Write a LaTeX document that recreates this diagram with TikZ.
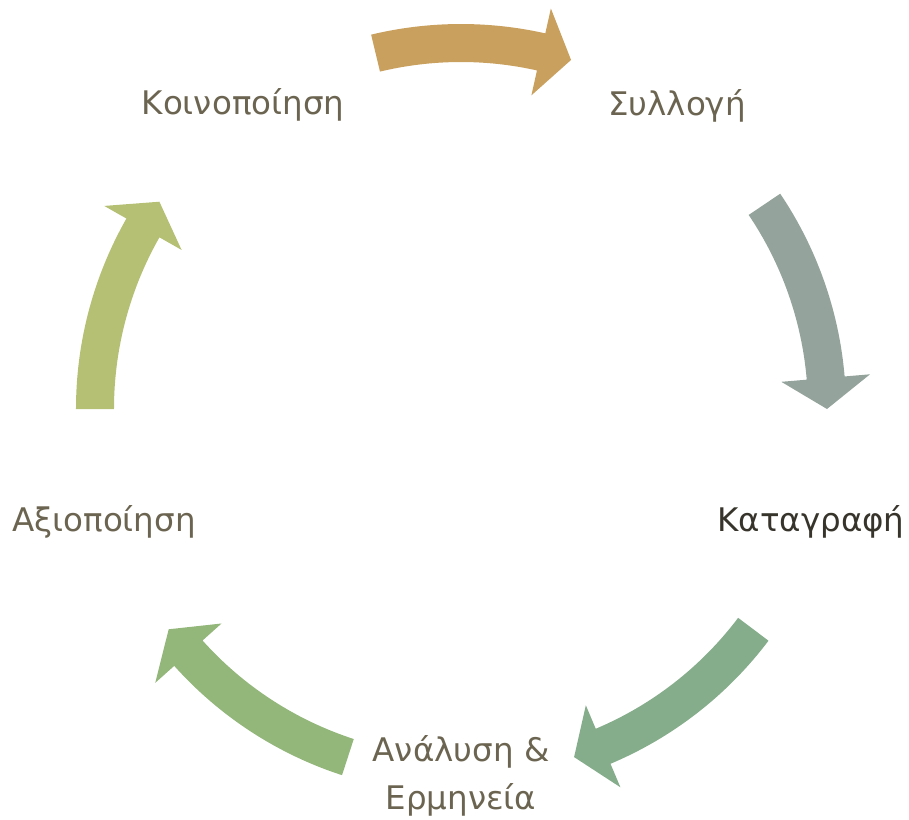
\documentclass[tikz,border=0pt]{standalone}
\usepackage{fontspec}
\setmainfont{DejaVu Sans}
\usepackage{tikz}

\definecolor{sandarrow}{HTML}{C9A05E}
\definecolor{greyarrow}{HTML}{94A39B}
\definecolor{sagearrow}{HTML}{85AD8B}
\definecolor{leafarrow}{HTML}{93B67A}
\definecolor{olivearrow}{HTML}{B5C074}
\definecolor{labeltext}{HTML}{6B6450}
\definecolor{labeldark}{HTML}{36342B}

% curved block arrow on the cycle: colour, tail angle, tip angle
\newcommand{\cyclearrow}[3]{%
  \fill[#1] (#2:34.7) arc[start angle=#2, end angle=#3+4.85, radius=34.7]
    -- (#3+4.85:32.15) -- (#3:36.6) -- (#3+4.85:41.05) -- (#3+4.85:38.5)
    arc[start angle=#3+4.85, end angle=#2, radius=38.5] -- cycle;}

\begin{document}
\begin{tikzpicture}[scale=0.2,
  lbl/.style={font=\fontsize{18.5}{27}\selectfont, text=labeltext, align=center}]
\useasboundingbox (-46.1,-41.0) rectangle (44.8,40.9);

% Arrows of the cycle
\cyclearrow{sandarrow}{103.5}{72.5}
\cyclearrow{greyarrow}{34}{0}
\cyclearrow{sagearrow}{-37}{-72}
\cyclearrow{leafarrow}{-108}{-143}
\cyclearrow{olivearrow}{180}{145.5}

% Steps
\node[lbl] (share) at (-21.8,30.4) {Κοινοποίηση};
\node[lbl] (collect) at (21.6,30.3) {Συλλογή};
\node[lbl, text=labeldark] (record) at (35.0,-11.3) {Καταγραφή};
\node[lbl] (analyse) at (0,-36.7) {Ανάλυση \&\\Ερμηνεία};
\node[lbl] (exploit) at (-35.7,-11.3) {Αξιοποίηση};

\end{tikzpicture}
\end{document}
